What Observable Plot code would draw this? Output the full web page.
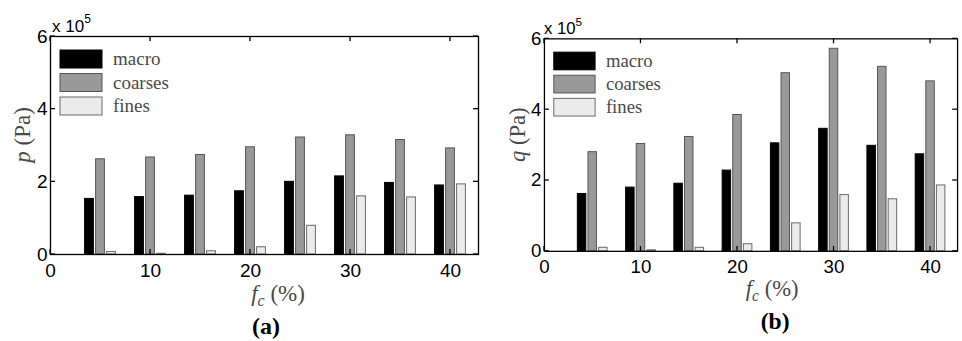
<!DOCTYPE html>
<html><head><meta charset="utf-8">
<script src="https://cdn.jsdelivr.net/npm/d3@7"></script>
<script src="https://cdn.jsdelivr.net/npm/@observablehq/plot@0.6"></script>
<style>
html,body{margin:0;padding:0;background:#fff;overflow:hidden;width:962px;height:341px}
#wrap{position:relative;width:962px;height:341px;overflow:hidden;background:#fff}
.panel{position:absolute;top:0}
</style></head><body><div id="wrap"></div>
<script>
// f_c (%) groups
const fc = [5, 10, 15, 20, 25, 30, 35, 40];
// panel (a): p (Pa), in units of 1e5
const pMacro   = [1.53, 1.58, 1.62, 1.74, 2.00, 2.15, 1.97, 1.90];
const pCoarses = [2.62, 2.67, 2.74, 2.95, 3.22, 3.28, 3.15, 2.92];
const pFines   = [0.07, 0.02, 0.09, 0.20, 0.79, 1.60, 1.57, 1.93];
// panel (b): q (Pa), in units of 1e5
const qMacro   = [1.62, 1.80, 1.91, 2.28, 3.05, 3.46, 2.98, 2.74];
const qCoarses = [2.80, 3.03, 3.23, 3.85, 5.03, 5.72, 5.21, 4.80];
const qFines   = [0.10, 0.03, 0.10, 0.20, 0.79, 1.59, 1.47, 1.86];

const seriesNames = ["macro", "coarses", "fines"];
const seriesOffset = [-1.1, 0, 1.1];
const barHalf = 0.44;
const seriesFill = ["#000000", "#999999", "#ebebeb"];
const seriesStroke = ["#000000", "#555555", "#6a6a6a"];
const xTicks = [0, 10, 20, 30, 40];
const yTicks = [0, 2, 4, 6];
const xDomain = [0, 42.8];
const yDomain = [0, 6];

const sans = "'Liberation Sans', Arial, Helvetica, sans-serif";
const serif = "'Liberation Serif', 'Times New Roman', serif";
const labelColor = "#4a4a4a";

function rowsFor(series) {
  return series.map((vals, s) => vals.map((v, i) => ({fc: fc[i], s, series: seriesNames[s], value: v})));
}

function buildPanel(cfg) {
  const groups = rowsFor(cfg.series);
  const marks = groups.map((rows, s) => Plot.rectY(rows, {
    x1: d => d.fc + seriesOffset[d.s] - barHalf,
    x2: d => d.fc + seriesOffset[d.s] + barHalf,
    y1: 0, y2: "value",
    fill: seriesFill[s], stroke: seriesStroke[s], strokeWidth: 1
  }));
  const plot = Plot.plot({
    width: cfg.width, height: 341,
    marginLeft: cfg.marginLeft, marginRight: cfg.marginRight,
    marginTop: cfg.marginTop, marginBottom: cfg.marginBottom,
    x: {domain: xDomain},
    y: {domain: yDomain},
    style: {fontFamily: sans, fontSize: "19px", color: "#000", background: "transparent", overflow: "visible"},
    marks: [
      ...marks,
      Plot.frame({stroke: "#000", strokeWidth: 1.3}),
      Plot.axisX({ticks: xTicks, tickFormat: d => String(d), tickSize: 0, tickPadding: 9, label: null, fill: "#000"}),
      Plot.axisY({ticks: yTicks, tickFormat: d => String(d), tickSize: 0, tickPadding: 3, label: null, fill: "#000"})
    ]
  });
  const svg = d3.select(plot);
  const sx = plot.scale("x"), sy = plot.scale("y");
  const xl = cfg.marginLeft, xr = cfg.width - cfg.marginRight;
  const yt = cfg.marginTop, yb = 341 - cfg.marginBottom;
  const g = svg.append("g").attr("stroke", "#000").attr("stroke-width", 1.3);
  const tl = 5;
  for (const v of xTicks) {
    const x = sx.apply(v);
    g.append("line").attr("x1", x).attr("x2", x).attr("y1", yb).attr("y2", yb - tl);
    g.append("line").attr("x1", x).attr("x2", x).attr("y1", yt).attr("y2", yt + tl);
  }
  for (const v of yTicks) {
    const y = sy.apply(v);
    g.append("line").attr("x1", xl).attr("x2", xl + tl).attr("y1", y).attr("y2", y);
    g.append("line").attr("x1", xr).attr("x2", xr - tl).attr("y1", y).attr("y2", y);
  }
  // legend
  const lg = svg.append("g").attr("text-anchor", "start");
  seriesNames.forEach((name, i) => {
    const y0 = yt + 14 + i * 23.5;
    lg.append("rect").attr("x", xl + 10).attr("y", y0).attr("width", 42).attr("height", 18)
      .attr("fill", seriesFill[i]).attr("stroke", seriesStroke[i]).attr("stroke-width", 1);
    lg.append("text").attr("x", xl + 63).attr("y", y0 + 15).attr("font-family", serif)
      .attr("font-size", 19).attr("fill", labelColor).text(name);
  });
  // exponent label
  const ex = svg.append("text").attr("x", xl + cfg.expDx).attr("y", yt - 4).attr("text-anchor", "start")
    .attr("font-family", sans).attr("font-size", 17).attr("fill", "#000");
  ex.append("tspan").text("x 10");
  ex.append("tspan").attr("dy", -9).attr("font-size", 12).text("5");
  // y label
  const yl = svg.append("text").attr("transform", `translate(${cfg.yLabelX},${(yt + yb) / 2 - 10}) rotate(-90)`)
    .attr("text-anchor", "middle").attr("font-family", serif).attr("font-size", 23).attr("fill", labelColor);
  yl.append("tspan").attr("font-style", "italic").text(cfg.yVar);
  yl.append("tspan").text(" (Pa)");
  // x label
  const xlab = svg.append("text").attr("x", cfg.xCenter).attr("y", 301).attr("text-anchor", "middle")
    .attr("font-family", serif).attr("font-size", 23).attr("fill", labelColor);
  xlab.append("tspan").attr("font-style", "italic").text("f");
  xlab.append("tspan").attr("font-style", "italic").attr("dy", 5).attr("font-size", 16).text("c");
  xlab.append("tspan").attr("dy", -5).text(" (%)");
  // caption
  svg.append("text").attr("x", cfg.capX).attr("y", 334).attr("text-anchor", "middle")
    .attr("font-family", serif).attr("font-weight", "bold").attr("font-size", 24).attr("fill", "#000")
    .text(cfg.caption);
  const div = document.createElement("div");
  div.className = "panel";
  div.style.left = cfg.left + "px";
  div.appendChild(plot);
  document.getElementById("wrap").appendChild(div);
}

buildPanel({series: [pMacro, pCoarses, pFines], left: 0, width: 480, marginLeft: 50, marginRight: 2,
  marginTop: 36, marginBottom: 87, yVar: "p", yLabelX: 30, xCenter: 278, capX: 266, caption: "(a)", expDx: 2});
buildPanel({series: [qMacro, qCoarses, qFines], left: 480, width: 490, marginLeft: 65, marginRight: 5,
  marginTop: 39, marginBottom: 86, yVar: "q", yLabelX: 46, xCenter: 297, capX: 300, caption: "(b)", expDx: 0});
</script></body></html>
